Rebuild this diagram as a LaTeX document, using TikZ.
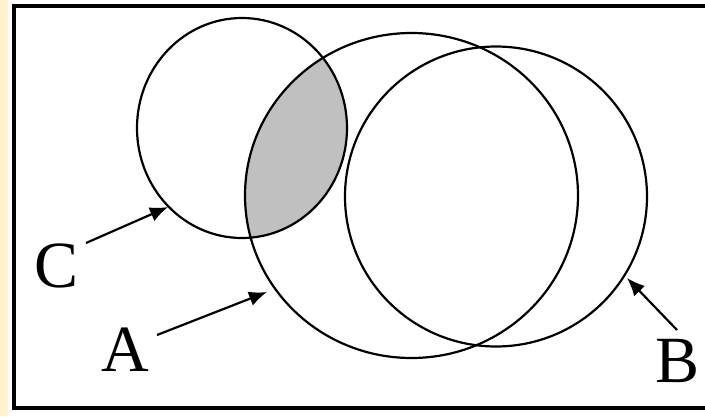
\documentclass[tikz,border=0pt]{standalone}
\usepackage{fontspec}
\setmainfont{Liberation Serif}
\usetikzlibrary{arrows.meta}
\definecolor{vennGray}{RGB}{192,192,192}
\definecolor{stripYellow}{RGB}{255,242,204}
\begin{document}
\begin{tikzpicture}[x=1pt,y=-1pt,
  setline/.style={line width=2.2pt,draw=black},
  pointer/.style={line width=2.2pt,-{Latex[length=18pt,width=15pt]}},
  lbl/.style={font=\fontsize{66}{66}\selectfont,inner sep=0pt}]
\useasboundingbox (0,0) rectangle (705,416);
\fill[white] (0,0) rectangle (705,416);
\fill[stripYellow] (0,0) rectangle (8,416);
\draw[line width=3.5pt] (14,6) rectangle (720,408);
% shaded region: C and A, outside B
\begin{scope}
  \clip (242,128) ellipse [x radius=105, y radius=110];
  \fill[vennGray] (411.5,195.5) ellipse [x radius=166.5, y radius=162.5];
  \fill[white] (496,196.5) ellipse [x radius=151, y radius=150];
\end{scope}
\draw[setline] (242,128) ellipse [x radius=105, y radius=110];
\draw[setline] (411.5,195.5) ellipse [x radius=166.5, y radius=162.5];
\draw[setline] (496,196.5) ellipse [x radius=151, y radius=150];
\node[lbl] (C) at (57,266) {C};
\node[lbl] (A) at (125,350) {A};
\node[lbl] (B) at (678,361) {B};
\coordinate (cTip) at (168,207);
\coordinate (aTip) at (267,292);
\coordinate (bTip) at (627,278);
\draw[pointer] (86,243) -- (cTip);
\draw[pointer] (157,335) -- (aTip);
\draw[pointer] (677,330) -- (bTip);
\end{tikzpicture}
\end{document}
